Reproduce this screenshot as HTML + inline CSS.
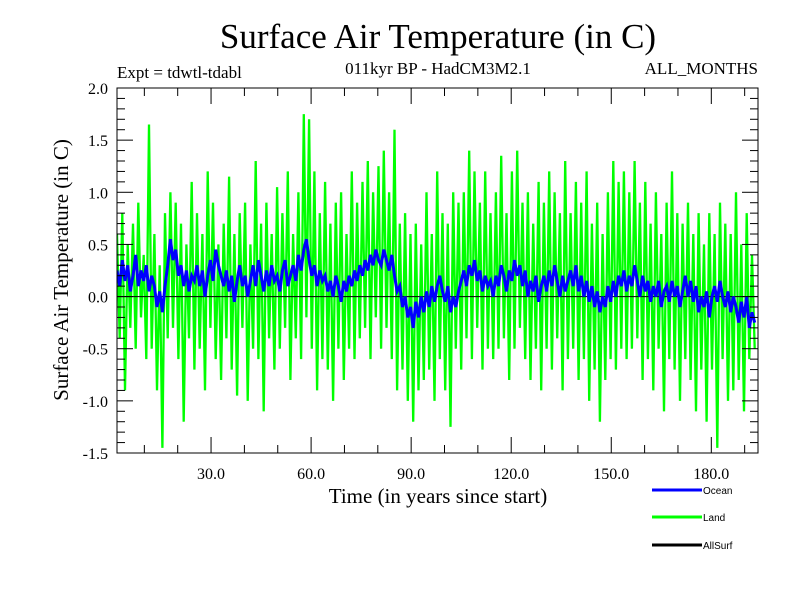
<!DOCTYPE html>
<html><head><meta charset="utf-8"><style>
body{margin:0;background:#fff;}
svg{display:block;font-family:"Liberation Serif",serif;}
</style></head><body>
<svg id="c" width="800" height="600">
<text x="438" y="48" font-size="35" text-anchor="middle">Surface Air Temperature (in C)</text>
<text x="117" y="78" font-size="17">Expt = tdwtl-tdabl</text>
<text x="438" y="74" font-size="17" text-anchor="middle">011kyr BP - HadCM3M2.1</text>
<text x="758" y="74" font-size="17" text-anchor="end">ALL_MONTHS</text>
<text x="438" y="503" font-size="21" text-anchor="middle">Time (in years since start)</text>
<text transform="translate(68,270) rotate(-90)" font-size="21" text-anchor="middle">Surface Air Temperature (in C)</text>
<g id="plot"></g>
<g font-family="Liberation Sans, sans-serif" font-size="10">
<line x1="652" y1="490" x2="702" y2="490" stroke="#0000ff" stroke-width="3"/>
<text x="703" y="494">Ocean</text>
<line x1="652" y1="517" x2="702" y2="517" stroke="#00ff00" stroke-width="3"/>
<text x="703" y="521">Land</text>
<line x1="652" y1="545" x2="702" y2="545" stroke="#000" stroke-width="3"/>
<text x="703" y="549">AllSurf</text>
</g>
</svg>
<script>
const xTicks=[30,60,90,120,150,180];
const xTickLabels=["30.0","60.0","90.0","120.0","150.0","180.0"];
const yTicks=[-1.5,-1.0,-0.5,0.0,0.5,1.0,1.5,2.0];
const yTickLabels=["-1.5","-1.0","-0.5","0.0","0.5","1.0","1.5","2.0"];
const startYear=1.8, stepYear=0.8;
const ocean=[0.25,0.1,0.35,0.15,0.3,0.05,0.2,0.4,0.1,0.25,
0.15,0.3,0.05,0.2,0.1,-0.1,0.05,-0.15,0.1,0.3,
0.55,0.35,0.45,0.2,0.3,0.1,0.25,0.05,0.2,0.15,
0.3,0.1,0.25,0.0,0.2,0.35,0.15,0.45,0.3,0.2,
0.1,0.25,0.05,0.2,-0.05,0.15,0.3,0.1,0.2,0.0,
0.15,0.3,0.1,0.35,0.2,0.05,0.25,0.1,0.3,0.15,
0.2,0.05,0.25,0.35,0.1,0.2,0.3,0.15,0.4,0.25,
0.45,0.55,0.35,0.2,0.3,0.1,0.25,0.15,0.2,0.05,
0.15,0.0,0.2,0.1,-0.05,0.15,0.05,0.2,0.1,0.25,
0.15,0.3,0.2,0.35,0.25,0.4,0.3,0.45,0.35,0.3,
0.45,0.35,0.25,0.4,0.2,0.05,0.1,-0.1,0.0,-0.2,
-0.1,-0.3,-0.05,-0.2,0.0,-0.15,0.05,-0.1,0.1,-0.05,
0.1,0.2,0.05,-0.05,0.1,-0.15,0.0,-0.1,0.05,0.15,
0.25,0.1,0.3,0.2,0.35,0.15,0.25,0.05,0.2,0.1,
0.15,0.0,0.2,0.1,0.3,0.2,0.05,0.25,0.15,0.35,
0.2,0.3,0.1,0.25,0.0,0.15,0.05,0.2,-0.05,0.1,
0.2,0.05,0.25,0.1,0.3,0.15,0.0,0.2,0.05,0.15,
0.25,0.1,0.3,0.05,0.2,0.0,0.15,-0.05,0.1,-0.1,
0.05,-0.15,0.0,-0.1,0.1,-0.05,0.15,0.0,0.2,0.1,
0.25,0.05,0.2,0.1,0.3,0.15,0.0,0.2,0.05,0.15,
-0.05,0.1,0.0,0.15,-0.1,0.05,0.1,-0.05,0.15,0.0,
0.1,-0.1,0.05,0.2,0.0,0.15,-0.05,0.1,-0.15,0.0,
-0.1,0.05,-0.2,0.0,0.1,-0.05,0.15,0.0,-0.1,0.05,
-0.15,0.0,-0.1,-0.25,-0.05,-0.2,0.0,-0.3,-0.15,-0.25];
const land=[0.6,-0.4,0.8,-0.9,0.5,-0.3,0.7,-0.5,0.9,-0.2,
0.4,-0.6,1.65,-0.5,0.6,-0.9,0.3,-1.45,0.8,-0.4,
1.0,-0.3,0.9,-0.6,0.7,-1.2,0.5,-0.4,1.1,-0.7,
0.8,-0.5,0.6,-0.9,1.2,-0.3,0.9,-0.6,0.5,-0.8,
0.7,-0.4,1.15,-0.7,0.6,-0.95,0.8,-0.3,0.9,-1.0,
0.5,-0.5,1.3,-0.6,0.7,-1.1,0.9,-0.4,0.6,-0.7,
1.05,-0.5,0.8,-0.3,1.2,-0.8,0.6,-0.4,1.0,-0.6,
1.75,-0.2,1.7,-0.5,1.2,-0.9,0.8,-0.6,1.1,-0.7,
0.7,-1.0,0.9,-0.5,1.0,-0.8,0.6,-0.5,1.2,-0.6,
0.9,-0.4,1.1,-0.3,1.3,-0.6,1.0,-0.2,1.25,-0.5,
1.4,-0.3,1.0,-0.6,1.6,-0.9,0.7,-0.7,0.8,-1.0,
0.6,-1.2,0.7,-0.9,0.5,-0.8,1.0,-0.7,0.6,-1.0,
1.2,-0.6,0.8,-0.9,0.7,-1.25,1.0,-0.5,0.9,-0.7,
1.0,-0.4,1.4,-0.6,1.2,-0.3,0.9,-0.7,1.2,-0.5,
0.8,-0.6,1.0,-0.5,1.35,-0.4,0.8,-0.8,1.2,-0.5,
1.4,-0.3,0.9,-0.6,1.0,-0.8,0.7,-0.5,1.1,-0.9,
0.9,-0.5,1.2,-0.7,1.0,-0.4,0.8,-0.9,1.3,-0.6,
0.8,-0.5,1.1,-0.8,0.9,-0.6,1.2,-1.0,0.7,-0.7,
0.9,-1.2,0.6,-0.8,1.0,-0.6,1.3,-0.7,1.1,-0.5,
1.2,-0.6,1.0,-0.5,1.3,-0.4,0.9,-0.8,1.1,-0.6,
0.7,-0.9,1.0,-0.5,0.6,-1.1,0.9,-0.6,1.2,-0.7,
0.8,-1.0,0.7,-0.6,0.9,-0.8,0.6,-1.1,0.8,-0.7,
0.5,-1.2,0.8,-0.7,0.6,-1.45,0.9,-0.6,0.7,-1.0,
0.6,-0.9,1.0,-0.8,0.5,-1.1,0.8,-0.6,0.4,-0.5];
const L=117,R=758,T=88,B=453;
const xMin=1.8,xMax=194,yMin=-1.5,yMax=2.0;
const xs=v=>L+(v-xMin)/(xMax-xMin)*(R-L);
const ys=v=>B-(v-yMin)/(yMax-yMin)*(B-T);
const NS="http://www.w3.org/2000/svg";
const g=document.getElementById('plot');
function mk(t,a){const e=document.createElementNS(NS,t);for(const k in a)e.setAttribute(k,a[k]);g.appendChild(e);return e;}
const clip=document.createElementNS(NS,'clipPath');clip.setAttribute('id','cp');
const cr=document.createElementNS(NS,'rect');cr.setAttribute('x',L);cr.setAttribute('y',T);cr.setAttribute('width',R-L);cr.setAttribute('height',B-T);clip.appendChild(cr);g.appendChild(clip);
const pts=a=>a.map((v,i)=>xs(startYear+i*stepYear).toFixed(1)+','+ys(v).toFixed(1)).join(' ');
let e=mk('polyline',{points:pts(land),fill:'none',stroke:'#00ff00','stroke-width':2.3,'clip-path':'url(#cp)'});


e=mk('line',{x1:L,x2:R,y1:ys(0),y2:ys(0),stroke:'#000','stroke-width':1});


e=mk('polyline',{points:pts(ocean),fill:'none',stroke:'#0000ff','stroke-width':3,'clip-path':'url(#cp)'});


e=mk('rect',{x:L,y:T,width:R-L,height:B-T,fill:'none',stroke:'#000','stroke-width':1});


for(let t=10;t<=xMax;t+=10){const x=xs(t);const big=t%30===0;
mk('line',{x1:x,x2:x,y1:B,y2:B-(big?16:8),stroke:'#000'});mk('line',{x1:x,x2:x,y1:T,y2:T+(big?16:8),stroke:'#000'});}
xTicks.forEach((t,i)=>{e=mk('text',{x:xs(t),y:479,'font-size':16,'text-anchor':'middle'});e.textContent=xTickLabels[i];

});
for(let k=-15;k<=20;k++){const v=k/10,y=ys(v);const big=k%5===0;
mk('line',{x1:L,x2:L+(big?16:8),y1:y,y2:y,stroke:'#000'});mk('line',{x1:R,x2:R-(big?16:8),y1:y,y2:y,stroke:'#000'});}
yTicks.forEach((t,i)=>{e=mk('text',{x:108,y:ys(t)+6,'font-size':16,'text-anchor':'end'});e.textContent=yTickLabels[i];

});
</script>
</body></html>
